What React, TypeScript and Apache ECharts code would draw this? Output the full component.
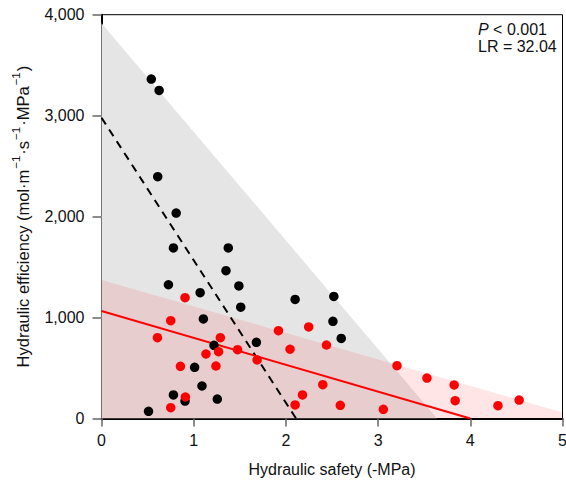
import React, { useEffect, useRef } from "react";
import * as echarts from "echarts";

const xTickLabels = ["0", "1", "2", "3", "4", "5"];
const yTickLabels = ["0", "1,000", "2,000", "3,000", "4,000"];

const blackX = [0.54, 0.625, 0.61, 0.81, 0.78, 1.375, 0.726, 1.07, 1.35, 1.49, 1.51, 1.105, 2.1, 2.52, 2.51, 2.6, 1.68, 1.22, 1.01, 1.09, 0.78, 0.906, 1.256, 0.51];
const blackY = [3362, 3250, 2395, 2035, 1690, 1690, 1325, 1246, 1464, 1313, 1103, 986, 1180, 1209, 963, 793, 755, 725, 507, 322, 233, 173, 193, 71];

const redX = [0.906, 0.751, 0.607, 1.289, 1.27, 1.133, 1.476, 1.919, 2.247, 2.045, 2.44, 1.688, 0.856, 1.241, 2.4, 2.18, 2.1, 2.59, 0.91, 0.751, 3.205, 3.53, 3.825, 3.836, 4.3, 4.53, 3.057];
const redY = [1197, 969, 801, 801, 662, 639, 682, 870, 907, 686, 728, 580, 517, 520, 335, 233, 134, 131, 213, 107, 523, 401, 332, 177, 127, 183, 91];

const greyRegion = [[0, 3915], [3.64, 0]];
const pinkRegion = [[0, 1373], [5, 60]];
const blackFit = [[0, 2980], [2.11, 0]];
const redFit = [[0, 1065], [4, 0]];

const FONT = "Liberation Sans, Arial, sans-serif";

export default function App() {
  const ref = useRef<HTMLDivElement>(null);
  useEffect(() => {
    if (!ref.current) return;
    const chart = echarts.init(ref.current, undefined, { renderer: "svg" });
    chart.setOption({
      animation: false,
      textStyle: { fontFamily: FONT },
      grid: {
        left: 101.5,
        right: 3.5,
        top: 14.7,
        bottom: 61.5,
        containLabel: false,
        outerBoundsMode: "none",
        show: true,
        borderColor: "#000",
        borderWidth: 1,
        backgroundColor: "transparent",
      },
      xAxis: {
        type: "value",
        min: 0,
        max: 5,
        interval: 1,
        name: "Hydraulic safety (-MPa)",
        nameLocation: "middle",
        nameGap: 43,
        nameTextStyle: { fontSize: 16, color: "#111", fontFamily: FONT },
        axisLine: { show: true, onZero: false, lineStyle: { color: "#000", width: 2 } },
        axisTick: { show: true, inside: false, length: 8, lineStyle: { color: "#666", width: 1.5 } },
        axisLabel: {
          fontSize: 16,
          color: "#111",
          margin: 14,
          fontFamily: FONT,
          formatter: (v: number) => xTickLabels[Math.round(v)] ?? "",
        },
        splitLine: { show: false },
      },
      yAxis: {
        type: "value",
        min: 0,
        max: 4000,
        interval: 1000,
        name: "{n|Hydraulic efficiency (mol·m}{s|−1}{n|·s}{s|−1}{n|·MPa}{s|−1}{n|)}",
        nameLocation: "middle",
        nameGap: 70,
        nameTextStyle: {
          fontSize: 16,
          color: "#111",
          fontFamily: FONT,
          rich: {
            n: { fontSize: 16.5, fontFamily: FONT, color: "#111", lineHeight: 22, verticalAlign: "bottom" },
            s: { fontSize: 11.5, fontFamily: FONT, color: "#111", lineHeight: 22, verticalAlign: "top", padding: [0, 1, 0, 1] },
          },
        },
        axisLine: { show: true, onZero: false, lineStyle: { color: "#000", width: 2 } },
        axisTick: { show: true, inside: false, length: 9, lineStyle: { color: "#666", width: 1.5 } },
        axisLabel: {
          fontSize: 16,
          color: "#111",
          margin: 17,
          fontFamily: FONT,
          formatter: (v: number) => yTickLabels[Math.round(v / 1000)] ?? "",
        },
        splitLine: { show: false },
      },
      series: [
        {
          type: "line",
          data: greyRegion,
          symbol: "none",
          lineStyle: { width: 0, opacity: 0 },
          areaStyle: { color: "#e5e5e5", opacity: 1, origin: "start" },
          silent: true,
          z: 1,
        },
        {
          type: "line",
          data: pinkRegion,
          symbol: "none",
          lineStyle: { width: 0, opacity: 0 },
          areaStyle: { color: "rgba(255,0,0,0.1)", opacity: 1, origin: "start" },
          silent: true,
          z: 1,
        },
        {
          type: "line",
          data: blackFit,
          symbol: "none",
          lineStyle: { color: "#000", width: 2, type: [8, 6] },
          z: 2,
        },
        {
          type: "line",
          data: redFit,
          symbol: "none",
          lineStyle: { color: "#ff0000", width: 2 },
          z: 2,
        },
        {
          type: "scatter",
          data: blackX.map((x, i) => [x, blackY[i]]),
          symbolSize: 9.5,
          itemStyle: { color: "#000", opacity: 1 },
          z: 3,
        },
        {
          type: "scatter",
          data: redX.map((x, i) => [x, redY[i]]),
          symbolSize: 9.5,
          itemStyle: { color: "#ff0000", opacity: 1 },
          z: 4,
        },
      ],
      graphic: [
        {
          type: "text",
          x: 478,
          y: 29.5,
          style: {
            text: "{i|P} < 0.001",
            fontSize: 16,
            fontFamily: FONT,
            fill: "#111",
            verticalAlign: "middle",
            align: "left",
            rich: { i: { fontStyle: "italic", fontSize: 16, fontFamily: FONT, fill: "#111" } },
          },
          z: 10,
        },
        {
          type: "text",
          x: 478,
          y: 46.5,
          style: {
            text: "LR = 32.04",
            fontSize: 16,
            fontFamily: FONT,
            fill: "#111",
            verticalAlign: "middle",
            align: "left",
          },
          z: 10,
        },
      ],
    });
    return () => chart.dispose();
  }, []);
  return (
    <div
      ref={ref}
      style={{ position: "absolute", left: 0, top: 0, width: 566, height: 480 }}
    />
  );
}
